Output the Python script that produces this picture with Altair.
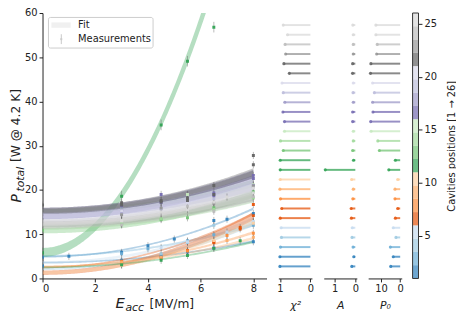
import altair as alt
import numpy as np
import pandas as pd

# ---------------- data ----------------
cavity = list(range(1, 27))
fit_P0 = [4.9, 3.6, 5.1, 2.2, 3.6, 2.5, 1.3, 2.7, 2.7, 1.3, 5.9, 2.5, 10.8, 11.6,
          15.1, 15.3, 14.1, 14.3, 13.4, 14.3, 15.4, 15.2, 12.2, 11.9, 12.6, 12.6]
fit_A = [0.17, 0.075, 0.11, 0.16, 0.15, 0.19, 0.2, 0.12, 0.1, 0.18, 1.45, 0.09, 0.13,
         0.1, 0.1, 0.13, 0.13, 0.1, 0.11, 0.1, 0.135, 0.13, 0.1, 0.1, 0.1, 0.12]
fit_dP0 = [0.18, 0.18, 0.2, 0.3, 0.3, 0.18, 0.5, 0.18, 0.18, 0.3, 1.0, 0.18, 0.6,
           0.6, 0.6, 0.7, 0.7, 0.7, 0.7, 0.7, 0.6, 0.6, 0.7, 0.7, 0.7, 0.7]
fit_dA = [0.003, 0.003, 0.005, 0.008, 0.008, 0.004, 0.012, 0.004, 0.004, 0.008,
          0.033, 0.003, 0.01, 0.01, 0.01, 0.01, 0.01, 0.01, 0.01, 0.01, 0.01, 0.01,
          0.012, 0.012, 0.012, 0.012]
fit_chi2 = [1.0, 1.0, 0.98, 0.95, 0.96, 0.99, 0.94, 0.98, 1.0, 0.99, 0.99, 0.99, 0.89,
            0.98, 0.85, 0.85, 0.90, 0.84, 0.89, 0.93, 0.69, 0.87, 0.81, 0.83, 0.75, 0.89]

meas_E = [
    [0, 1, 3, 4, 5, 6.5, 7, 8],
    [0, 3, 4.5, 5.5, 6.5, 8],
    [3, 4, 5.5, 6.5, 8],
    [3, 4.5, 5.5, 6.5, 8],
    [4.5, 5.5, 7, 8],
    [3, 5.5, 6.5, 7.5, 8],
    [3, 4.5, 6.5, 7.5, 8],
    [3, 5.5, 7, 8],
    [3, 4.5, 7, 8],
    [3, 6.5, 8],
    [0, 3, 4.5, 5.5, 6.5],
    [3, 4.5, 5.5, 6.5, 7.5],
    [0, 3, 4.5, 5.5, 6.5, 8],
    [3, 4.5, 6.5, 8],
    [3, 5.5, 8],
    [3, 4.5, 6.5, 8],
    [3, 4.5, 6.5, 8],
    [3, 5.5, 8],
    [3, 4.5, 6.5],
    [3, 5.5, 8],
    [0, 3, 4.5, 5.5, 6.5, 8],
    [3, 4.5, 5.5, 6.5, 8],
    [3, 4.5, 6.5, 8],
    [3, 5.5, 6.5, 8],
    [3, 5.5, 7, 8],
    [3, 4.5, 6.5, 8],
]
meas_P = [
    [4.8, 5.0, 5.9, 7.4, 8.9, 13.1, 13.4, 14.7],
    [2.8, 4.1, 5.1, 6.0, 6.9, 8.3],
    [5.6, 6.7, 8.5, 9.9, 12.0],
    [3.4, 5.6, 8.1, 12.0, 12.7],
    [7.0, 8.3, 10.5, 12.9],
    [3.5, 6.3, 8.1, 11.5, 16.7],
    [3.3, 4.6, 8.3, 11.2, 14.2],
    [3.9, 6.2, 9.7, 10.2],
    [3.6, 4.8, 8.6, 9.3],
    [3.0, 8.6, 12.5],
    [5.8, 18.6, 34.7, 49.1, 56.8],
    [3.1, 4.1, 5.2, 6.8, 8.5],
    [10.9, 12.3, 13.3, 13.7, 16.0, 19.6],
    [12.4, 13.5, 15.6, 18.2],
    [16.0, 19.0, 21.2],
    [16.3, 19.0, 19.3, 23.3],
    [15.5, 17.2, 18.7, 22.6],
    [15.0, 17.3, 21.0],
    [14.5, 15.7, 18.0],
    [15.3, 17.0, 20.5],
    [16.6, 17.1, 17.6, 18.2, 21.0, 25.7],
    [16.6, 17.3, 17.6, 19.0, 27.8],
    [14.4, 15.9, 17.0, 20.9],
    [12.1, 16.3, 15.2, 18.5],
    [13.0, 15.5, 18.4, 19.3],
    [13.1, 15.0, 17.3, 20.4],
]
meas_err = [0.8, 0.8, 0.8, 0.8, 0.8, 0.8, 0.8, 0.8, 0.8, 0.8, 1.2, 0.8, 0.8,
            0.8, 0.8, 0.8, 0.8, 0.8, 0.8, 0.8, 0.8, 0.8, 0.8, 0.8, 0.8, 0.8]

x_ticks = [0, 2, 4, 6, 8]
y_ticks = [0, 10, 20, 30, 40, 50, 60]
cb_ticks = [5, 10, 15, 20, 25]

# ---------------- style ----------------
TAB20C = ["#3182bd", "#6baed6", "#9ecae1", "#c6dbef",
          "#e6550d", "#fd8d3c", "#fdae6b", "#fdd0a2",
          "#31a354", "#74c476", "#a1d99b", "#c7e9c0",
          "#756bb1", "#9e9ac8", "#bcbddc", "#dadaeb",
          "#636363", "#969696", "#bdbdbd", "#d9d9d9"]
cav_colors = [TAB20C[min(19, (i - 1) * 20 // 25)] for i in cavity]
cscale = alt.Scale(domain=cavity, range=cav_colors)
FONT = "DejaVu Sans"
INK = "#222222"
W, H = 381, 269          # whole drawing frame (main panel + side panels + colorbar)

# ---------------- tables ----------------
E_grid = np.linspace(0, 8, 161)
band_rows = []
for c, p0, a, dp, da in zip(cavity, fit_P0, fit_A, fit_dP0, fit_dA):
    P = p0 + a * E_grid ** 2
    h = np.sqrt(dp ** 2 + (da * E_grid ** 2) ** 2)
    for e, p, hh in zip(E_grid, P, h):
        if p - hh < 66:
            band_rows.append({"cav": c, "E": float(e), "lo": float(p - hh), "hi": float(p + hh)})
df_band = pd.DataFrame(band_rows)

meas_rows = []
for c, Es, Ps, err in zip(cavity, meas_E, meas_P, meas_err):
    for e, p in zip(Es, Ps):
        meas_rows.append({"cav": c, "E": e, "P": p, "lo": p - err, "hi": p + err})
df_meas = pd.DataFrame(meas_rows)

df_fit = pd.DataFrame({"cav": cavity, "chi2": fit_chi2, "A": fit_A, "P0": fit_P0,
                       "zero": [0.0] * len(cavity)})

# ---------------- main panel ----------------
axis_common = dict(grid=False, labelFontSize=10, labelFont=FONT, tickSize=3.5,
                   labelPadding=2, domainColor=INK, tickColor=INK, labelColor=INK,
                   domainWidth=1, tickWidth=1)
xs = alt.Scale(domain=[0, 8.5], range=[0, 227], nice=False, zero=False)
ys = alt.Scale(domain=[0, 60], nice=False, zero=False)
xax = alt.Axis(values=x_ticks, title=None, orient="bottom", **axis_common)
yax = alt.Axis(values=y_ticks, title=None, orient="left", **axis_common)

bands = alt.Chart(df_band).mark_area(opacity=0.36, clip=True).encode(
    x=alt.X("E:Q", scale=xs, axis=xax), y=alt.Y("lo:Q", scale=ys, axis=yax), y2="hi:Q",
    color=alt.Color("cav:N", scale=cscale, legend=None), detail="cav:N")
errs = alt.Chart(df_meas).mark_rule(color="#555555", opacity=0.4, strokeWidth=1, clip=True).encode(
    x=alt.X("E:Q", scale=xs, axis=xax), y=alt.Y("lo:Q", scale=ys, axis=yax), y2="hi:Q")
pts = alt.Chart(df_meas).mark_point(shape="square", filled=True, size=9, opacity=0.95, clip=True).encode(
    x=alt.X("E:Q", scale=xs, axis=xax), y=alt.Y("P:Q", scale=ys, axis=yax),
    color=alt.Color("cav:N", scale=cscale, legend=None))
main = alt.layer(bands, errs, pts)


def txt(text, x, y, size, style="normal", angle=0, align="left", baseline="alphabetic"):
    return alt.Chart(pd.DataFrame({"t": [text]})).mark_text(
        align=align, baseline=baseline, fontSize=size, fontStyle=style, angle=angle,
        font=FONT, color=INK).encode(x=alt.value(x), y=alt.value(y), text="t:N")


one = pd.DataFrame({"k": [0]})
leg_box = alt.Chart(one).mark_rect(fill="white", fillOpacity=0.85, stroke="#cccccc",
                                   strokeWidth=1, cornerRadius=2).encode(
    x=alt.value(6), x2=alt.value(112), y=alt.value(4.5), y2=alt.value(35.5))
leg_patch = alt.Chart(one).mark_rect(fill="#f0f0f0").encode(
    x=alt.value(9), x2=alt.value(28.5), y=alt.value(9.5), y2=alt.value(15))
leg_bar = alt.Chart(one).mark_rule(color="#c8c8c8", strokeWidth=1).encode(
    x=alt.value(19), y=alt.value(21.5), y2=alt.value(31.5))
leg_dot = alt.Chart(one).mark_point(shape="square", filled=True, size=4, color="#cccccc", opacity=1).encode(
    x=alt.value(19), y=alt.value(26.5))

# ---------------- side panels ----------------
ys_side = alt.Scale(domain=[-0.25, 27.25], nice=False, zero=False)


def side(field, domain, rng, ticks, title):
    sx = alt.Scale(domain=domain, range=rng, nice=False, zero=False)
    xa = alt.Axis(values=ticks, title=title, orient="bottom", titleFontStyle="italic",
                  titleFontSize=11, titleFont=FONT, titleFontWeight="normal", titleColor=INK,
                  titlePadding=6, format="d", **axis_common)
    base = alt.Chart(df_fit)
    rule = base.mark_rule(strokeWidth=2, opacity=0.75).encode(
        x=alt.X(f"{field}:Q", scale=sx, axis=xa), x2="zero:Q",
        y=alt.Y("cav:Q", scale=ys_side, axis=None),
        color=alt.Color("cav:N", scale=cscale, legend=None))
    dot = base.mark_circle(size=10, opacity=0.9).encode(
        x=alt.X(f"{field}:Q", scale=sx, axis=xa),
        y=alt.Y("cav:Q", scale=ys_side, axis=None),
        color=alt.Color("cav:N", scale=cscale, legend=None))
    return alt.layer(rule, dot)


p_chi = side("chi2", [-0.05, 1.05], [273, 239], [1, 0], "χ²")
p_A = side("A", [-0.0725, 1.5225], [318.5, 285], [1, 0], "A")
p_P0 = side("P0", [-0.8, 16.6], [364, 330], [10, 0], "P₀")

# ---------------- colorbar ----------------
df_cb = pd.DataFrame({"lo": [1 + 1.25 * k for k in range(20)],
                      "hi": [1 + 1.25 * (k + 1) for k in range(20)],
                      "col": TAB20C})
cb_axis = {k: v for k, v in axis_common.items() if k not in ("domainColor", "domainWidth")}
cb_rects = alt.Chart(df_cb).mark_rect(opacity=0.7).encode(
    y=alt.Y("lo:Q", scale=alt.Scale(domain=[1, 26], nice=False, zero=False),
            axis=alt.Axis(orient="right", values=cb_ticks, title=None, domain=False, **cb_axis)),
    y2="hi:Q", x=alt.value(375), x2=alt.value(381),
    fill=alt.Fill("col:N", scale=None))
cb_outline = alt.Chart(one).mark_rect(fill=None, stroke="#333333", strokeWidth=1).encode(
    x=alt.value(375), x2=alt.value(381), y=alt.value(0), y2=alt.value(H))

chart = alt.layer(
    main, p_chi, p_A, p_P0, cb_rects, cb_outline,
    leg_box, leg_patch, leg_bar, leg_dot,
    txt("Fit", 36, 12.5, 10, baseline="middle"),
    txt("Measurements", 36, 26.5, 10, baseline="middle"),
    txt("E", 74, 299, 15, "italic"),
    txt("acc", 84, 302, 11, "italic"),
    txt("[MV/m]", 108.5, 299, 12.4),
    txt("P", -22, 192, 14, "italic", angle=270),
    txt("total", -18.5, 181, 11, "italic", angle=270),
    txt("[W @ 4.2 K]", -22.5, 151, 12.4, angle=270),
    txt("Cavities positions [1 → 26]", 417.5, 135, 10, angle=270, align="center"),
).resolve_scale(x="independent", y="independent").properties(
    width=W, height=H,
    autosize=alt.AutoSizeParams(type="none"),
    padding={"left": 35, "top": 3, "right": 38, "bottom": 38},
).configure_view(stroke=None)

chart.save("out.html", embed_options={"renderer": "svg", "actions": False})
